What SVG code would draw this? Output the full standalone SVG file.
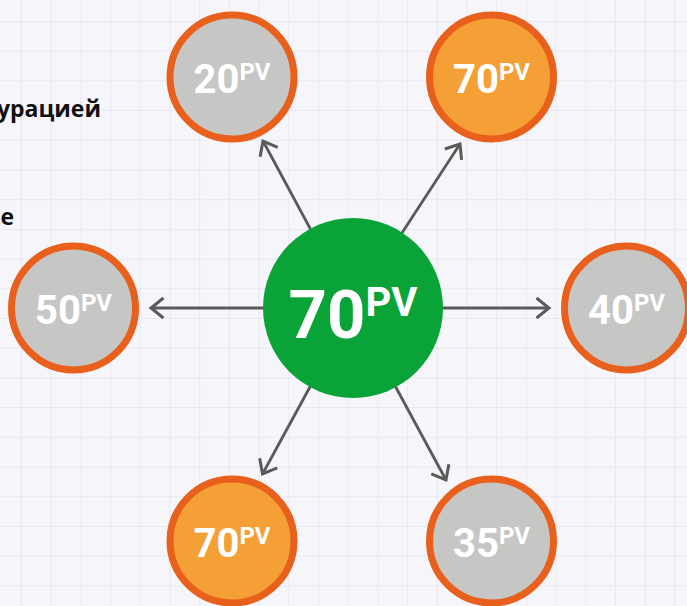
<svg xmlns="http://www.w3.org/2000/svg" width="687" height="606" viewBox="0 0 687 606">
<defs>
<pattern id="grid" x="21" y="21" width="29.7" height="29.7" patternUnits="userSpaceOnUse">
<path d="M0 0 H29.7 M0 0 V29.7" fill="none" stroke="#E4E3F4" stroke-width="1.5"/>
</pattern>
<marker id="chev" markerUnits="userSpaceOnUse" markerWidth="30" markerHeight="30" refX="15" refY="15" orient="auto" viewBox="0 0 30 30">
<path d="M2.5 5 L15 15 L2.5 25" fill="none" stroke="#5A5A5A" stroke-width="3"/>
</marker>
<style>
.side{font-family:"Open Sans","Liberation Sans",sans-serif;font-weight:bold;font-size:23px;fill:#111}
.ring{stroke:#E8601C;stroke-width:7}
.gray{fill:#C6C7C5}
.orange{fill:#F5A036}
.num{font-family:Roboto,"Liberation Sans",sans-serif;font-weight:bold;fill:#fff;text-anchor:middle;font-size:40px}
.sup{font-size:24px}
.conn line{stroke:#5A5A5A;stroke-width:2.8;marker-end:url(#chev)}
</style>
</defs>
<rect width="687" height="606" fill="#F6F6FA"/>
<rect width="687" height="606" fill="url(#grid)"/>
<text class="side" x="101" y="117" text-anchor="end">урацией</text>
<text class="side" x="14" y="225" text-anchor="end">е</text>
<g id="connectors" class="conn">
<line x1="353" y1="308" x2="151" y2="308"/>
<line x1="353" y1="308" x2="549" y2="308"/>
<line x1="353" y1="308" x2="263" y2="141"/>
<line x1="353" y1="308" x2="460" y2="144"/>
<line x1="353" y1="308" x2="262.5" y2="474"/>
<line x1="353" y1="308" x2="446" y2="480"/>
</g>
<g id="center">
<circle cx="353" cy="308" r="90" fill="#09A337"/>
<text class="num" x="353" y="338" style="font-size:67px"><tspan>70</tspan><tspan dy="-22" style="font-size:40px">PV</tspan></text>
</g>
<g id="node-tl">
<circle class="ring gray" cx="232" cy="77" r="62"/>
<text class="num" x="232" y="93"><tspan>20</tspan><tspan class="sup" dy="-13">PV</tspan></text>
</g>
<g id="node-tr">
<circle class="ring orange" cx="491.5" cy="77" r="62"/>
<text class="num" x="491.5" y="93"><tspan>70</tspan><tspan class="sup" dy="-13">PV</tspan></text>
</g>
<g id="node-l">
<circle class="ring gray" cx="73.5" cy="308" r="62"/>
<text class="num" x="73.5" y="324"><tspan>50</tspan><tspan class="sup" dy="-13">PV</tspan></text>
</g>
<g id="node-r">
<circle class="ring gray" cx="626.5" cy="308" r="62"/>
<text class="num" x="626.5" y="324"><tspan>40</tspan><tspan class="sup" dy="-13">PV</tspan></text>
</g>
<g id="node-bl">
<circle class="ring orange" cx="232" cy="541" r="62"/>
<text class="num" x="232" y="557"><tspan>70</tspan><tspan class="sup" dy="-13">PV</tspan></text>
</g>
<g id="node-br">
<circle class="ring gray" cx="491.5" cy="541" r="62"/>
<text class="num" x="491.5" y="557"><tspan>35</tspan><tspan class="sup" dy="-13">PV</tspan></text>
</g>
</svg>
